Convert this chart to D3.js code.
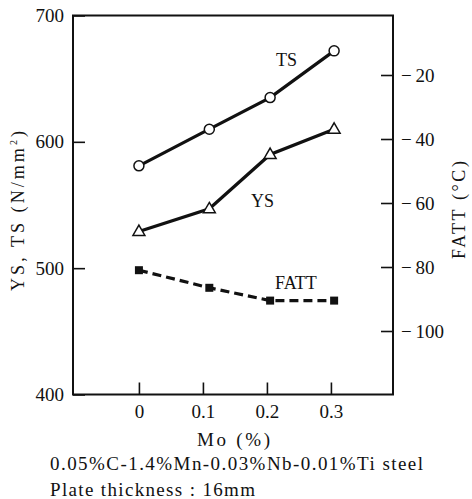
<!DOCTYPE html>
<html>
<head>
<meta charset="utf-8">
<script src="https://cdn.jsdelivr.net/npm/d3@7"></script>
<style>
  html, body { margin: 0; padding: 0; background: #fff; }
  svg { display: block; }
</style>
</head>
<body>
<svg id="chart" width="472" height="499"></svg>
<script>
// Mo content of the steels (%)
const moContent = [0, 0.11, 0.205, 0.305];
// Tensile strength and yield strength (N/mm²)
const tsValues = [581, 610, 635, 672];
const ysValues = [529, 547, 590, 610];
// Fracture appearance transition temperature (°C)
const fattValues = [-81, -86.5, -90.5, -90.5];

// Axis ticks
const xTicks = [0, 0.1, 0.2, 0.3];
const leftTicks = [400, 500, 600, 700];
const rightTicks = [-20, -40, -60, -80, -100];

const serif = "'Liberation Serif', 'DejaVu Serif', serif";
const ink = "#111";

const svg = d3.select("#chart");
const plot = { left: 73, right: 393, top: 15.5, bottom: 394.5 };

const x = d3.scaleLinear().domain([-0.103, 0.397]).range([plot.left, plot.right]);
const yStrength = d3.scaleLinear().domain([400, 700]).range([plot.bottom, plot.top]);
const yFatt = d3.scaleLinear().domain([-120, 0]).range([395, 11]);

// Frame
svg.append("rect")
  .attr("x", plot.left).attr("y", plot.top)
  .attr("width", plot.right - plot.left).attr("height", plot.bottom - plot.top)
  .attr("fill", "none").attr("stroke", ink).attr("stroke-width", 2);

function styleAxis(g) {
  g.attr("font-family", null).attr("font-size", null);
  g.select(".domain").remove();
  g.selectAll(".tick line").attr("stroke", ink).attr("stroke-width", 1.6);
  g.selectAll(".tick text").style("font-size", "19px").attr("fill", ink);
}

// Left axis: YS, TS
svg.append("g")
  .attr("transform", `translate(${plot.left},0)`)
  .call(d3.axisLeft(yStrength).tickValues(leftTicks).tickSizeInner(-12).tickSizeOuter(0).tickPadding(9))
  .call(styleAxis);

// Right axis: FATT
svg.append("g")
  .attr("transform", `translate(${plot.right},0)`)
  .call(d3.axisRight(yFatt).tickValues(rightTicks).tickSizeInner(-12).tickSizeOuter(0).tickPadding(8)
    .tickFormat(d => "\u2212\u2009" + Math.abs(d)))
  .call(styleAxis);

// Bottom axis: Mo
svg.append("g")
  .attr("transform", `translate(0,${plot.bottom})`)
  .call(d3.axisBottom(x).tickValues(xTicks).tickSizeInner(-12).tickSizeOuter(0).tickPadding(10)
    .tickFormat(d => d === 0 ? "0" : d3.format(".1f")(d)))
  .call(styleAxis);

// Series lines
const rows = (vals) => moContent.map((m, i) => ({ m, v: vals[i] }));

const lineStrength = d3.line().x(d => x(d.m)).y(d => yStrength(d.v));
const lineFatt = d3.line().x(d => x(d.m)).y(d => yFatt(d.v));

svg.append("path").datum(rows(tsValues))
  .attr("d", lineStrength).attr("fill", "none").attr("stroke", ink).attr("stroke-width", 3.2);
svg.append("path").datum(rows(ysValues))
  .attr("d", lineStrength).attr("fill", "none").attr("stroke", ink).attr("stroke-width", 3.2);
svg.append("path").datum(rows(fattValues))
  .attr("d", lineFatt).attr("fill", "none").attr("stroke", ink).attr("stroke-width", 3.2)
  .attr("stroke-dasharray", "9,5");

// Markers
svg.append("g").selectAll("circle").data(rows(tsValues)).join("circle")
  .attr("cx", d => x(d.m)).attr("cy", d => yStrength(d.v)).attr("r", 5)
  .attr("fill", "#fff").attr("stroke", ink).attr("stroke-width", 1.5);

const tri = d3.symbol().type(d3.symbolTriangle).size(62);
svg.append("g").selectAll("path").data(rows(ysValues)).join("path")
  .attr("d", tri)
  .attr("transform", d => `translate(${x(d.m)},${yStrength(d.v) + 0.5})`)
  .attr("fill", "#fff").attr("stroke", ink).attr("stroke-width", 1.5);

svg.append("g").selectAll("rect").data(rows(fattValues)).join("rect")
  .attr("x", d => x(d.m) - 4).attr("y", d => yFatt(d.v) - 4)
  .attr("width", 8).attr("height", 8).attr("fill", ink);

// Series labels
const seriesLabel = (txt, px, py) => svg.append("text")
  .attr("x", px).attr("y", py).style("font-size", "18px").text(txt);
seriesLabel("TS", 276, 66);
seriesLabel("YS", 251, 207);
seriesLabel("FATT", 275, 289);

// Axis titles
svg.append("text")
  .attr("transform", "translate(24,211) rotate(-90)")
  .attr("text-anchor", "middle").style("font-size", "18px")
  .attr("textLength", 160).attr("lengthAdjust", "spacing")
  .html("YS, TS (N/mm<tspan dy='-7' style='font-size:10px'>2</tspan><tspan dy='7'>)</tspan>");

svg.append("text")
  .attr("transform", "translate(465,210) rotate(-90)")
  .attr("text-anchor", "middle").style("font-size", "18px")
  .attr("textLength", 98).attr("lengthAdjust", "spacing")
  .text("FATT (°C)");

svg.append("text")
  .attr("x", 197).attr("y", 446).style("font-size", "19px")
  .attr("textLength", 73).attr("lengthAdjust", "spacing")
  .text("Mo (%)");

svg.append("text")
  .attr("x", 50).attr("y", 470).style("font-size", "19px")
  .attr("textLength", 373).attr("lengthAdjust", "spacing")
  .text("0.05%C-1.4%Mn-0.03%Nb-0.01%Ti steel");

svg.append("text")
  .attr("x", 50).attr("y", 496).style("font-size", "19px")
  .attr("textLength", 205).attr("lengthAdjust", "spacing")
  .text("Plate thickness : 16mm");

// One serif face for every label
svg.selectAll("text").style("font-family", serif).style("fill", ink);
</script>
</body>
</html>
